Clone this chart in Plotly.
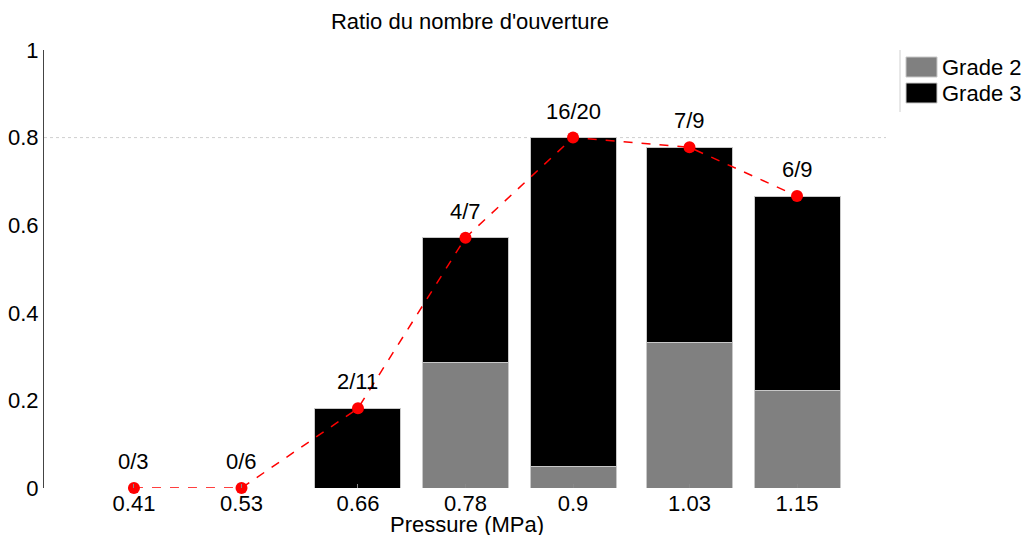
import plotly.graph_objects as go

pressures = [0.41, 0.53, 0.66, 0.78, 0.9, 1.03, 1.15]
tick_labels = ["0.41", "0.53", "0.66", "0.78", "0.9", "1.03", "1.15"]
opened = [0, 0, 2, 4, 16, 7, 6]
totals = [3, 6, 11, 7, 20, 9, 9]
grade2 = [0, 0, 0, 2, 1, 3, 2]
grade3 = [0, 0, 2, 2, 15, 4, 4]
labels = [f"{o}/{t}" for o, t in zip(opened, totals)]
ratio = [o / t for o, t in zip(opened, totals)]
g2 = [g / t for g, t in zip(grade2, totals)]
g3 = [g / t for g, t in zip(grade3, totals)]
legend_names = ["Grade 2", "Grade 3"]
legend_colors = ["#808080", "#000000"]

FONT = "Liberation Sans, Arial, sans-serif"
FS = 22
W, H = 1026, 535
L, R, T, B = 44, 140, 50, 47
PW, PH = W - L - R, H - T - B
BAR_W = 0.096

fig = go.Figure()
fig.add_trace(go.Bar(x=pressures, y=g2, name="Grade 2", showlegend=False, width=BAR_W,
                     marker=dict(color="#808080",
                                 line=dict(color="#c8c8c8", width=[1 if v > 0 else 0 for v in g2]))))
fig.add_trace(go.Bar(x=pressures, y=g3, name="Grade 3", showlegend=False, width=BAR_W,
                     marker=dict(color="#000000",
                                 line=dict(color="#c8c8c8", width=[1 if v > 0 else 0 for v in g3]))))
fig.add_trace(go.Scatter(x=pressures, y=ratio, mode="lines+markers", showlegend=False, cliponaxis=False,
                         line=dict(color="red", dash="dash", width=1.5),
                         marker=dict(color="red", size=12)))

for p, r, lab in zip(pressures, ratio, labels):
    fig.add_annotation(x=p, y=r, xref="x", yref="y", text=lab, showarrow=False, yanchor="bottom", yshift=12,
                       font=dict(size=FS, color="black", family=FONT))

fig.add_shape(type="line", xref="paper", yref="y", x0=0, x1=1, y0=0.8, y1=0.8,
              line=dict(color="#cfcfcf", width=1, dash="dot"), layer="below")
# manual legend
fig.add_shape(type="line", xref="paper", yref="paper", x0=(900 - L) / PW, x1=(900 - L) / PW,
              y0=1 - 62 / PH, y1=1.0, line=dict(color="#d0d0d0", width=1))
for k, (nm, col) in enumerate(zip(legend_names, legend_colors)):
    ytop = 1 - (7 + 26 * k) / PH
    ybot = ytop - 20 / PH
    fig.add_shape(type="rect", xref="paper", yref="paper", x0=(906 - L) / PW, x1=(937 - L) / PW,
                  y0=ybot, y1=ytop, fillcolor=col, line=dict(color="#c8c8c8", width=1))
    fig.add_annotation(xref="paper", yref="paper", x=(940 - L) / PW, y=(ytop + ybot) / 2, text=nm,
                       showarrow=False, xanchor="left", yanchor="middle",
                       font=dict(size=FS, color="black", family=FONT))

# x axis title
fig.add_annotation(xref="paper", yref="paper", x=(467 - L) / PW, y=-36 / PH, text="Pressure (MPa)",
                   showarrow=False, xanchor="center", yanchor="middle",
                   font=dict(size=FS, color="black", family=FONT))

fig.update_layout(
    width=W, height=H,
    barmode="stack",
    plot_bgcolor="white", paper_bgcolor="white",
    margin=dict(l=L, r=R, t=T, b=B),
    font=dict(family=FONT, size=FS, color="black"),
    title=dict(text="Ratio du nombre d'ouverture", xref="container", x=470 / W,
               xanchor="center", yref="container", y=1 - 14 / H, yanchor="top",
               font=dict(size=FS, family=FONT)),
    showlegend=False,
    xaxis=dict(range=[0.3096, 1.2493], tickvals=pressures, ticktext=tick_labels,
               showgrid=False, showline=False, zeroline=False,
               automargin=False, ticks="inside", ticklen=4, tickcolor="#888", tickfont=dict(size=FS)),
    yaxis=dict(range=[0, 1], tickvals=[0, 0.2, 0.4, 0.6, 0.8, 1], ticktext=["0", "0.2", "0.4", "0.6", "0.8", "1"],
               showgrid=False, zeroline=False, showline=True, linecolor="#444", linewidth=1,
               automargin=False, ticks="", tickfont=dict(size=FS)),
)

fig.write_html("out.html", config={"displayModeBar": False},
               post_script="document.body.style.margin='0px';document.body.style.overflow='hidden';")
